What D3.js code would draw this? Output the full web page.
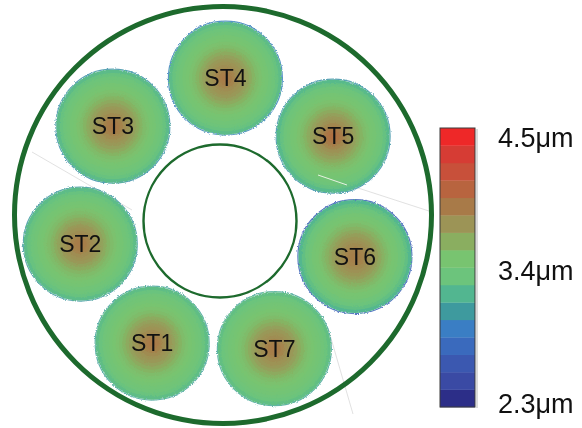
<!DOCTYPE html>
<html>
<head>
<meta charset="utf-8">
<script src="https://cdn.jsdelivr.net/npm/d3@7"></script>
<style>
  html, body { margin: 0; padding: 0; background: #fff; }
  svg { display: block; }
  text { font-family: "Liberation Sans", Arial, sans-serif; }
</style>
</head>
<body>
<svg id="chart" width="582" height="428"></svg>
<script>
// Sub-fiber names, listed ST1..ST7
const fiberNames = ["ST1", "ST2", "ST3", "ST4", "ST5", "ST6", "ST7"];

// Wall thickness (µm) of each sub-fiber, sampled in equal radial steps from centre to rim
const profileST1 = [3.89, 3.87, 3.84, 3.79, 3.75, 3.72, 3.68, 3.63, 3.57, 3.52, 3.49, 3.47, 3.44, 3.40, 3.36, 3.32, 3.26];
const profileST2 = [3.87, 3.86, 3.83, 3.78, 3.75, 3.72, 3.67, 3.62, 3.56, 3.52, 3.49, 3.46, 3.43, 3.39, 3.35, 3.31, 3.25];
const profileST3 = [3.89, 3.87, 3.84, 3.79, 3.75, 3.72, 3.68, 3.63, 3.57, 3.52, 3.49, 3.46, 3.43, 3.39, 3.35, 3.31, 3.24];
const profileST4 = [3.88, 3.86, 3.83, 3.78, 3.75, 3.72, 3.68, 3.63, 3.57, 3.52, 3.49, 3.46, 3.43, 3.39, 3.35, 3.31, 3.25];
const profileST5 = [3.95, 3.92, 3.87, 3.81, 3.76, 3.72, 3.68, 3.63, 3.57, 3.52, 3.49, 3.46, 3.43, 3.39, 3.35, 3.30, 3.23];
const profileST6 = [3.86, 3.85, 3.83, 3.79, 3.76, 3.73, 3.69, 3.64, 3.58, 3.53, 3.49, 3.46, 3.43, 3.38, 3.33, 3.28, 3.20];
const profileST7 = [3.87, 3.86, 3.83, 3.78, 3.75, 3.72, 3.68, 3.63, 3.57, 3.52, 3.49, 3.47, 3.44, 3.41, 3.37, 3.33, 3.28];
const profiles = [profileST1, profileST2, profileST3, profileST4, profileST5, profileST6, profileST7];

// Thinnest wall found on each sub-fiber's outer edge (µm)
const rimMinimum = [3.10, 3.05, 3.02, 2.95, 3.02, 2.72, 3.12];

// Colour bar: 16 bands, listed from the thinnest band to the thickest
const barColors = ["#2c2e88", "#3a4aa4", "#3b58b0", "#3a6abd", "#3a7ec4", "#3e9a9e", "#52b690", "#6cc47c",
                   "#78c470", "#8aae60", "#9c9456", "#a87a48", "#b8643f", "#c8503a", "#d63c34", "#ee2828"];
const thicknessRange = [2.3, 4.5];
const tickValues = [2.3, 3.4, 4.5];
const tickLabels = ["2.3μm", "3.4μm", "4.5μm"];

const svg = d3.select("#chart");
const W = 582, H = 428;
svg.append("rect").attr("width", W).attr("height", H).attr("fill", "#fff");

// ---- colour scales ----
const nBands = barColors.length;
const bandStep = (thicknessRange[1] - thicknessRange[0]) / nBands;
const bandLows = d3.range(nBands).map(i => thicknessRange[0] + i * bandStep);
const bandColor = d3.scaleQuantize().domain(thicknessRange).range(barColors);
// continuous version of the same palette for the measured maps
const smoothColor = d3.scaleLinear()
  .domain(bandLows.map(v => v + bandStep / 2))
  .range(barColors)
  .interpolate(d3.interpolateRgb)
  .clamp(true);

// ---- defs: ragged, slightly soft edge for the measured maps ----
const defs = svg.append("defs");
const rough = defs.append("filter").attr("id", "rough")
  .attr("x", "-10%").attr("y", "-10%").attr("width", "120%").attr("height", "120%");
rough.append("feTurbulence").attr("type", "fractalNoise").attr("baseFrequency", 0.9)
  .attr("numOctaves", 2).attr("seed", 4).attr("result", "noise");
rough.append("feDisplacementMap").attr("in", "SourceGraphic").attr("in2", "noise")
  .attr("scale", 3).attr("xChannelSelector", "R").attr("yChannelSelector", "G").attr("result", "disp");
rough.append("feGaussianBlur").attr("in", "disp").attr("stdDeviation", 0.5);

// ---- cable geometry ----
const cable = { cx: 223, cy: 215, r: 208.5 };
const core = { cx: 220, cy: 221, r: 76.5 };
const ringCenter = { x: 219, y: 219 };
const ringRadius = 141;
const fiberRadius = 56.5;
const slotAngle = d3.scaleLinear().domain([0, 7]).range([-87.4, 272.6]);
const slotOf = i => (i + 4) % 7;

// faint construction lines left in the background
const guides = [
  [[318, 175], [432, 212]],
  [[32, 152], [132, 210]],
  [[328, 328], [353, 414]]
];
svg.append("g").selectAll("line").data(guides).join("line")
  .attr("x1", d => d[0][0]).attr("y1", d => d[0][1])
  .attr("x2", d => d[1][0]).attr("y2", d => d[1][1])
  .attr("stroke", "#dedede").attr("stroke-width", 0.9);

// ---- sub-fiber thickness maps ----
const fibers = fiberNames.map((name, i) => {
  const a = slotAngle(slotOf(i)) * Math.PI / 180;
  return {
    name,
    x: ringCenter.x + ringRadius * Math.cos(a),
    y: ringCenter.y + ringRadius * Math.sin(a),
    profile: profiles[i],
    rim: rimMinimum[i]
  };
});

const mapLayer = svg.append("g").attr("filter", "url(#rough)");
fibers.forEach(f => {
  const g = mapLayer.append("g").attr("transform", `translate(${f.x},${f.y})`);
  const n = f.profile.length;
  const rScale = d3.scaleLinear().domain([0, n]).range([0, fiberRadius]);
  // outermost ring first so the inner rings paint over it
  const rings = f.profile.map((v, k) => ({ v, k })).reverse();
  g.append("circle").attr("r", fiberRadius + 0.5)
    .attr("fill", "none").attr("stroke", smoothColor(f.rim)).attr("stroke-width", 1.2).attr("opacity", 0.85);
  g.selectAll("circle.ring").data(rings).join("circle")
    .attr("class", "ring")
    .attr("r", d => rScale(d.k + 1))
    .attr("fill", d => smoothColor(d.v));
});

// white scratch across ST5
svg.append("line").attr("x1", 318).attr("y1", 175).attr("x2", 347).attr("y2", 185)
  .attr("stroke", "#f4f6ee").attr("stroke-width", 0.9);

// ---- cable outline and central hole ----
svg.append("circle").attr("cx", cable.cx).attr("cy", cable.cy).attr("r", cable.r)
  .attr("fill", "none").attr("stroke", "#1d6a2d").attr("stroke-width", 5);
svg.append("circle").attr("cx", core.cx).attr("cy", core.cy).attr("r", core.r)
  .attr("fill", "#fff").attr("stroke", "#1d6a2d").attr("stroke-width", 2.4);

// ---- sub-fiber labels ----
svg.append("g").selectAll("text").data(fibers).join("text")
  .attr("x", d => d.x).attr("y", d => d.y)
  .attr("text-anchor", "middle").attr("dominant-baseline", "central")
  .attr("font-size", 23).attr("fill", "#111")
  .text(d => d.name);

// ---- colour bar ----
const bar = { x: 440, y: 128, w: 35, h: 279 };
const yBar = d3.scaleLinear().domain(thicknessRange).range([bar.y + bar.h, bar.y]);
svg.append("line").attr("x1", bar.x + bar.w + 2).attr("x2", bar.x + bar.w + 2)
  .attr("y1", bar.y + 1).attr("y2", bar.y + bar.h + 1).attr("stroke", "#cfcfcf").attr("stroke-width", 1.5);
svg.append("g").selectAll("rect").data(bandLows).join("rect")
  .attr("x", bar.x).attr("width", bar.w)
  .attr("y", d => yBar(d + bandStep))
  .attr("height", d => yBar(d) - yBar(d + bandStep) + 0.3)
  .attr("fill", d => bandColor(d + bandStep / 2));
svg.append("rect").attr("x", bar.x).attr("y", bar.y).attr("width", bar.w).attr("height", bar.h)
  .attr("fill", "none").attr("stroke", "#3a3a3a").attr("stroke-width", 1);

const yLabel = d3.scaleLinear().domain(thicknessRange).range([bar.y + bar.h - 3, bar.y + 10]);
svg.append("g").selectAll("text").data(tickValues).join("text")
  .attr("x", 498).attr("y", d => yLabel(d))
  .attr("dominant-baseline", "central")
  .attr("font-size", 27).attr("fill", "#111")
  .text((d, i) => tickLabels[i]);
</script>
</body>
</html>
